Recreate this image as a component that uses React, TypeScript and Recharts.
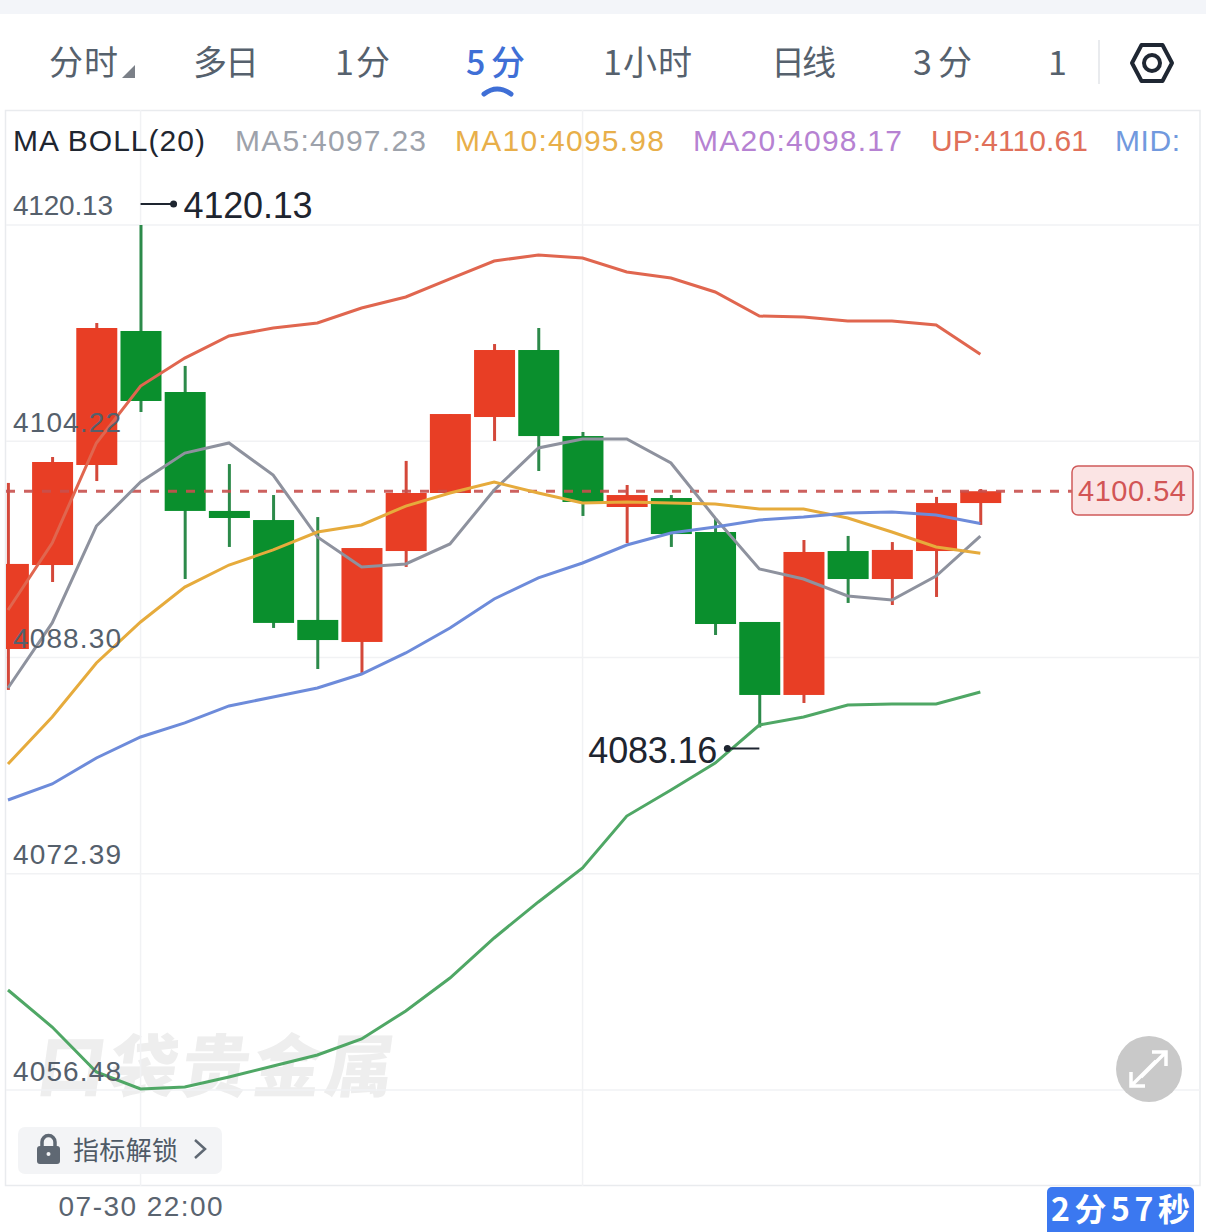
import React from 'react';
import { ComposedChart, Bar, Line, XAxis, YAxis, CartesianGrid, ReferenceLine, ReferenceDot } from 'recharts';

const indexes = [0,1,2,3,4,5,6,7,8,9,10,11,12,13,14,15,16,17,18,19,20,21,22];
const opens = [4088.93,4095.11,4102.47,4112.33,4107.84,4099.09,4098.42,4091.07,4089.45,4096.14,4100.41,4106.00,4110.93,4104.60,4099.38,4100.04,4097.54,4090.92,4085.55,4096.14,4094.08,4096.14,4099.67];
const closes = [4095.19,4102.69,4112.55,4107.18,4099.09,4098.57,4090.85,4089.59,4096.36,4100.41,4106.22,4110.93,4104.60,4099.75,4100.26,4097.39,4090.77,4085.55,4096.07,4094.08,4096.22,4099.67,4100.54];
const highs = [4101.15,4103.06,4112.92,4120.13,4109.76,4102.54,4100.26,4098.64,4096.36,4102.77,4106.22,4111.37,4112.55,4104.90,4101.00,4100.26,4098.57,4090.92,4096.95,4097.25,4096.80,4100.12,4100.70];
const lows = [4085.92,4093.86,4101.29,4106.37,4094.08,4096.44,4090.48,4087.46,4087.17,4094.97,4100.41,4104.24,4102.03,4098.72,4096.73,4096.44,4089.96,4083.16,4084.96,4092.32,4092.17,4092.76,4098.06];
const ma5 = [4086.06,4090.85,4097.98,4101.22,4103.35,4104.09,4101.73,4097.17,4094.97,4095.19,4096.66,4100.63,4103.72,4104.38,4104.38,4102.62,4098.57,4094.82,4094.08,4092.83,4092.54,4094.30,4097.23];
const ma10 = [4080.47,4083.93,4087.90,4090.92,4093.49,4095.11,4096.22,4097.54,4098.06,4099.45,4100.41,4101.22,4100.41,4099.67,4099.75,4099.67,4099.60,4099.23,4099.23,4098.57,4097.54,4096.44,4095.98];
const up = [4091.80,4096.73,4104.09,4108.28,4110.34,4111.96,4112.55,4112.92,4114.02,4114.83,4116.16,4117.48,4117.92,4117.70,4116.67,4116.23,4115.20,4113.43,4113.36,4113.07,4113.07,4112.77,4110.61];
const mid = [4077.82,4079.00,4080.91,4082.46,4083.49,4084.74,4085.40,4086.06,4087.09,4088.64,4090.48,4092.61,4094.16,4095.26,4096.58,4097.47,4097.91,4098.42,4098.64,4098.94,4099.01,4098.79,4098.17];
const low = [4063.84,4061.12,4057.81,4056.56,4056.70,4057.44,4058.25,4059.06,4060.24,4062.30,4064.72,4067.67,4070.32,4072.82,4076.64,4078.56,4080.54,4083.34,4083.93,4084.81,4084.88,4084.88,4085.77];

const priceTicks = [4120.13,4104.22,4088.30,4072.39,4056.48];
const timeTicks = [3];
const timeLabels = ['07-30 22:00'];
const gridTimes = [3,13];
const lastPrice = 4100.54;
const highMark = { index: 3, price: 4120.13 };
const lowMark = { index: 17, price: 4083.16 };
const tabs = [
  { label: '分时', x: 49, w: 69 },
  { label: '多日', x: 193, w: 66 },
  { label: '1分', x: 335, w: 55 },
  { label: '1小时', x: 603, w: 89 },
  { label: '日线', x: 771, w: 65 },
  { label: '3分', x: 913, w: 59 },
  { label: '1', x: 1048, w: 12 },
];
const legend = [
  { label: 'MA BOLL(20)', x: 13, w: 192, color: '#1F2630' },
  { label: 'MA5:4097.23', x: 235, w: 191, color: '#9DA2AB' },
  { label: 'MA10:4095.98', x: 455, w: 209, color: '#E8AF4A' },
  { label: 'MA20:4098.17', x: 693, w: 209, color: '#B682D2' },
  { label: 'UP:4110.61', x: 931, w: 157, color: '#E0705A' },
  { label: 'MID:', x: 1115, w: 65, color: '#7199DE' },
];

const rows = indexes.map((i) => ({
  i, open: opens[i], close: closes[i], high: highs[i], low: lows[i],
  ma5: ma5[i], ma10: ma10[i], up: up[i], mid: mid[i], lower: low[i],
}));

const FONT = "'Liberation Sans', 'Noto Sans CJK SC', sans-serif";
const CJK = "'Noto Sans CJK SC', 'Liberation Sans', sans-serif";

function Candle(props: any) {
  const { x, y, width, height, payload } = props;
  const top = Math.min(y, y + height);
  const h = Math.abs(height);
  const span = payload.high - payload.low || 1;
  const py = (v: number) => top + ((payload.high - v) / span) * h;
  const rising = payload.close >= payload.open;
  const bodyTop = py(Math.max(payload.open, payload.close));
  const bodyBottom = py(Math.min(payload.open, payload.close));
  const cx = x + width / 2;
  return (
    <g>
      <line x1={cx} x2={cx} y1={top} y2={top + h} stroke={rising ? '#D4483A' : '#2C8A4A'} strokeWidth={3} />
      <rect x={x} y={bodyTop} width={width} height={Math.max(bodyBottom - bodyTop, 1)} fill={rising ? '#E83E25' : '#0A8F2D'} />
    </g>
  );
}

function PriceTick(props: any) {
  const { y, payload } = props;
  return (
    <text x={13} y={y - 19} dominantBaseline="central" fontFamily={FONT} fontSize={28} fill="#55606C" textLength={payload.value === 4120.13 ? 100 : 108} lengthAdjust="spacing">
      {payload.value.toFixed(2)}
    </text>
  );
}

function TimeTick(props: any) {
  const { x, y } = props;
  return (
    <text x={x - 82} y={y + 12} dominantBaseline="central" fontFamily={FONT} fontSize={28} fill="#5A6470" textLength={164} lengthAdjust="spacing">
      {timeLabels[0]}
    </text>
  );
}

function HighMark(props: any) {
  const { cx, cy } = props;
  const yy = cy - 21;
  return (
    <g>
      <line x1={cx} x2={cx + 33} y1={yy} y2={yy} stroke="#1E2530" strokeWidth={2} />
      <circle cx={cx + 33} cy={yy} r={3.5} fill="#1E2530" />
      <text x={cx + 43} y={yy + 2} dominantBaseline="central" fontFamily={FONT} fontSize={36} fill="#1E2530" textLength={129} lengthAdjust="spacing">
        {highMark.price.toFixed(2)}
      </text>
    </g>
  );
}

function LowMark(props: any) {
  const { cx, cy } = props;
  const yy = cy + 21;
  return (
    <g>
      <line x1={cx} x2={cx - 32} y1={yy} y2={yy} stroke="#1E2530" strokeWidth={2} />
      <circle cx={cx - 32} cy={yy} r={3.5} fill="#1E2530" />
      <text x={cx - 171} y={yy + 2} dominantBaseline="central" fontFamily={FONT} fontSize={36} fill="#1E2530" textLength={129} lengthAdjust="spacing">
        {lowMark.price.toFixed(2)}
      </text>
    </g>
  );
}

function T({ x, y, w, size, color, family = FONT, weight = 400, children }: any) {
  return (
    <text x={x} y={y} dominantBaseline="central" fontFamily={family} fontSize={size} fontWeight={weight} fill={color} textLength={w} lengthAdjust="spacing">
      {children}
    </text>
  );
}

const layer: React.CSSProperties = { position: 'absolute', left: 0, top: 0, width: 1206, height: 1232 };

export default function App() {
  return (
    <div style={{ position: 'absolute', left: 0, top: 0, width: 1206, height: 1232, background: '#fff', overflow: 'hidden' }}>
      <svg width={1206} height={1232} style={layer}>
        <rect x={0} y={0} width={1206} height={14} fill="#F3F5F9" />
        <rect x={5.5} y={110.5} width={1194.5} height={1075} fill="none" stroke="#E9EBEE" strokeWidth={1.5} />
        <g transform="translate(33 1062) skewX(-8)">
          <text x={6} y={0} dominantBaseline="central" fontFamily={CJK} fontSize={68} fontWeight={900} fill="#EEEEEE" textLength={356} lengthAdjust="spacing">
            口袋贵金属
          </text>
        </g>
      </svg>
      <div style={layer}>
        <ComposedChart width={1206} height={1232} data={rows} margin={{ top: 110, right: 6, bottom: 0, left: 6 }}>
          <CartesianGrid stroke="#F1F2F4" strokeWidth={1.5} horizontalValues={priceTicks} verticalValues={gridTimes} />
          <XAxis dataKey="i" type="number" domain={[-0.045, 26.97]} allowDataOverflow ticks={timeTicks} axisLine={false} tickLine={false} height={46} tick={<TimeTick />} interval={0} />
          <YAxis type="number" domain={[4049.42, 4128.59]} allowDataOverflow ticks={priceTicks} axisLine={false} tickLine={false} mirror width={60} tick={<PriceTick />} interval={0} />
          <Bar dataKey={(d: any) => [d.low, d.high]} barSize={41} shape={<Candle />} isAnimationActive={false} />
          <ReferenceLine segment={[{ x: -0.045, y: lastPrice }, { x: 24.07, y: lastPrice }]} stroke="#C8504E" strokeWidth={3} strokeDasharray="9 9" strokeOpacity={0.9} />
          <Line dataKey="ma5" stroke="#8E929E" strokeWidth={3} dot={false} activeDot={false} type="linear" isAnimationActive={false} />
          <Line dataKey="ma10" stroke="#E6AB3C" strokeWidth={3} dot={false} activeDot={false} type="linear" isAnimationActive={false} />
          <Line dataKey="up" stroke="#E0664F" strokeWidth={3} dot={false} activeDot={false} type="linear" isAnimationActive={false} />
          <Line dataKey="mid" stroke="#6D8BDA" strokeWidth={3} dot={false} activeDot={false} type="linear" isAnimationActive={false} />
          <Line dataKey="lower" stroke="#4FA765" strokeWidth={3} dot={false} activeDot={false} type="linear" isAnimationActive={false} />
          <ReferenceDot x={highMark.index} y={highMark.price} shape={<HighMark />} />
          <ReferenceDot x={lowMark.index} y={lowMark.price} shape={<LowMark />} />
        </ComposedChart>
      </div>
      <svg width={1206} height={1232} style={{ ...layer, pointerEvents: 'none' }}>
        {tabs.map((t) => (
          <T key={t.label} x={t.x} y={60.5} w={t.w} size={34} color="#56616D" family={CJK}>{t.label}</T>
        ))}
        <path d="M135 65 L135 78 L122 78 Z" fill="#7B8088" />
        <T x={466} y={60.5} w={59} size={34} color="#3F6FD6" family={CJK} weight={500}>5分</T>
        <path d="M484 94 Q497 84 511 94" fill="none" stroke="#3F6FD6" strokeWidth={5} strokeLinecap="round" />
        <rect x={1098} y={40} width={2} height={44} fill="#E9EBEE" />
        <path d="M1141.5 45 L1162.5 45 L1172 63 L1162.5 81 L1141.5 81 L1132 63 Z" fill="none" stroke="#1F2733" strokeWidth={4} strokeLinejoin="round" />
        <circle cx={1152} cy={63} r={8} fill="none" stroke="#1F2733" strokeWidth={4} />
        {legend.map((l) => (
          <T key={l.label} x={l.x} y={140.5} w={l.w} size={30} color={l.color}>{l.label}</T>
        ))}
        <rect x={1072} y={466} width={121} height={49} rx={6} fill="#FBE4E4" stroke="#CF5A5A" strokeWidth={1.5} />
        <T x={1078} y={490.5} w={108} size={29} color="#D25555">{lastPrice.toFixed(2)}</T>
        <circle cx={1149} cy={1069} r={33} fill="#C9C9C9" />
        <path d="M1141 1077 L1165 1053 M1152 1052 L1166 1052 L1166 1066 M1156 1061 L1131 1086 M1131 1072 L1131 1086 L1145 1086" fill="none" stroke="#fff" strokeWidth={3.5} />
        <rect x={18} y={1127} width={204} height={47} rx={7} fill="#F3F4F6" />
        <rect x={37} y={1146} width={23} height={18} rx={3} fill="#5F6873" />
        <path d="M42 1146 L42 1142 A6.5 6.5 0 0 1 55 1142 L55 1146" fill="none" stroke="#5F6873" strokeWidth={3.5} />
        <circle cx={48.5} cy={1154} r={2} fill="#F3F4F6" />
        <T x={73} y={1148} w={105} size={26} color="#4F5A66" family={CJK}>指标解锁</T>
        <path d="M195 1140 L205 1149 L195 1158" fill="none" stroke="#5F6873" strokeWidth={2.5} />
        <path d="M1047 1192 A5 5 0 0 1 1052 1187 L1189 1187 A5 5 0 0 1 1194 1192 L1194 1232 L1047 1232 Z" fill="#3B78F0" />
        <T x={1051} y={1207} w={139} size={32} color="#fff" family={CJK} weight={700}>2分57秒</T>
      </svg>
    </div>
  );
}
